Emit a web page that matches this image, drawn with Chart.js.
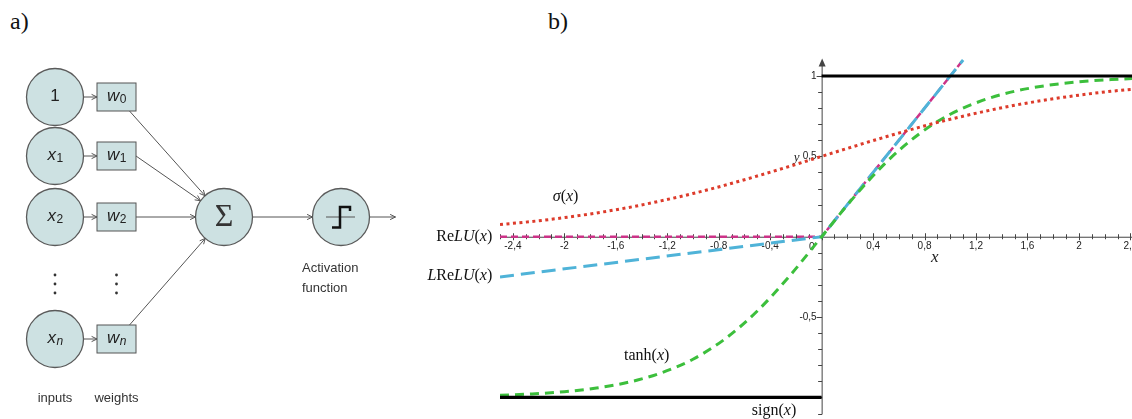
<!DOCTYPE html>
<html>
<head>
<meta charset="utf-8">
<script src="https://cdn.jsdelivr.net/npm/chart.js@4"></script>
<style>
  body { margin: 0; background: #fff; width: 1132px; height: 419px; overflow: hidden; position: relative; }
  canvas { position: absolute; top: 0; }
  #neuron { left: 0; }
  #acts { left: 400px; }
  .tag { position: absolute; top: 8px; font: 24px "Liberation Serif", serif; color: #111; }
</style>
</head>
<body>
<div class="tag" style="left:10px">a)</div>
<div class="tag" style="left:548px">b)</div>
<canvas id="neuron" width="460" height="419"></canvas>
<canvas id="acts" width="732" height="419"></canvas>
<script>
// ---- panel a: perceptron ----
const inputLabels = ['1', 'x1', 'x2', 'xn'];
const weightLabels = ['w0', 'w1', 'w2', 'wn'];

// ---- panel b: activation functions ----
const xs = [-2.5, -2.25, -2, -1.75, -1.5, -1.25, -1, -0.75, -0.5, -0.25, 0,
            0.25, 0.5, 0.75, 1, 1.25, 1.5, 1.75, 2, 2.25, 2.5];
const sigmoidVals = [0.076, 0.095, 0.119, 0.148, 0.182, 0.223, 0.269, 0.321, 0.378, 0.438, 0.5,
                     0.562, 0.622, 0.679, 0.731, 0.777, 0.818, 0.852, 0.881, 0.905, 0.924];
const tanhVals = [-0.987, -0.978, -0.964, -0.941, -0.905, -0.848, -0.762, -0.635, -0.462, -0.245, 0,
                  0.245, 0.462, 0.635, 0.762, 0.848, 0.905, 0.941, 0.964, 0.978, 0.987];
const reluX = [-2.5, 0, 1.1];
const reluVals = [0, 0, 1.1];
const lreluVals = [-0.25, 0, 1.1];
const signX = [-2.5, 0, 0, 0, 2.5];
const signVals = [-1, -1, null, 1, 1];
const xTickValues = [-2.4, -2, -1.6, -1.2, -0.8, -0.4, 0, 0.4, 0.8, 1.2, 1.6, 2, 2.4];
const xTickLabels = ['-2,4', '-2', '-1,6', '-1,2', '-0,8', '-0,4', '0', '0,4', '0,8', '1,2', '1,6', '2', '2,4'];
const yTickValues = [1, 0.5, -0.5];
const yTickLabels = ['1', '0,5', '-0,5'];

function pts(xv, yv) {
    return xv.map((x, i) => ({ x: x, y: yv[i] }));
}

function arrow(ctx, x1, y1, x2, y2) {
    const a = Math.atan2(y2 - y1, x2 - x1);
    ctx.beginPath();
    ctx.moveTo(x1, y1);
    ctx.lineTo(x2, y2);
    ctx.moveTo(x2 - 6 * Math.cos(a - 0.45), y2 - 6 * Math.sin(a - 0.45));
    ctx.lineTo(x2, y2);
    ctx.lineTo(x2 - 6 * Math.cos(a + 0.45), y2 - 6 * Math.sin(a + 0.45));
    ctx.stroke();
}

// letter + subscript, centred on (x, y)
function subText(ctx, label, x, y) {
    const main = label[0], sub = label.slice(1);
    const italic = main !== '1';
    const mainFont = (italic ? 'italic ' : '') + '17px "Liberation Sans", Arial';
    const subFont = (sub === 'n' ? 'italic ' : '') + '12px "Liberation Sans", Arial';
    ctx.font = mainFont;
    const w1 = ctx.measureText(main).width;
    ctx.font = subFont;
    const w2 = ctx.measureText(sub).width;
    let cx = x - (w1 + w2) / 2;
    ctx.textAlign = 'left';
    ctx.textBaseline = 'middle';
    ctx.font = mainFont;
    ctx.fillText(main, cx, y);
    ctx.font = subFont;
    ctx.fillText(sub, cx + w1 + 0.5, y + 4);
}

const rowY = [97, 156, 217, 339];
const inX = 55, wX = 116.5, sumX = 224, actX = 341, midY = 217, nodeR = 28.5;

const neuronPlugin = {
    id: 'neuron',
    afterDatasetsDraw(chart) {
        const ctx = chart.ctx;
        const px = v => chart.scales.x.getPixelForValue(v);
        const py = v => chart.scales.y.getPixelForValue(v);
        ctx.save();
        ctx.strokeStyle = '#555';
        ctx.fillStyle = '#222';
        ctx.lineWidth = 1;
        const sx = px(sumX), sy = py(midY);
        rowY.forEach((ry, i) => {
            const bx = px(wX), by = py(ry);
            // input -> weight
            arrow(ctx, px(inX) + nodeR, by, bx - 19.5, by);
            // weight box
            ctx.fillStyle = '#cde1e2';
            ctx.fillRect(bx - 19.5, by - 14, 39, 28);
            ctx.strokeRect(bx - 19.5, by - 14, 39, 28);
            ctx.fillStyle = '#222';
            subText(ctx, weightLabels[i], bx, by - 1);
            subText(ctx, inputLabels[i], px(inX), by - 1);
            // weight -> sum
            let ox = bx + 19.5, oy = by;
            if (i === 0) { ox = bx + 13; oy = by + 14; }
            if (i === rowY.length - 1) { ox = bx + 13; oy = by - 14; }
            const d = Math.hypot(sx - ox, sy - oy);
            arrow(ctx, ox, oy, sx - nodeR * (sx - ox) / d, sy - nodeR * (sy - oy) / d);
        });
        // sum -> activation -> output
        arrow(ctx, sx + nodeR, sy, px(actX) - nodeR, sy);
        arrow(ctx, px(actX) + nodeR, sy, px(actX) + nodeR + 26, sy);
        // sigma
        ctx.font = '32px "Liberation Serif", serif';
        ctx.textAlign = 'center';
        ctx.textBaseline = 'middle';
        ctx.fillStyle = '#333';
        ctx.fillText('\u03A3', sx, sy + 1);
        // step icon
        const ax = px(actX);
        ctx.beginPath();
        ctx.moveTo(ax - 15, sy);
        ctx.lineTo(ax + 14, sy);
        ctx.stroke();
        ctx.lineWidth = 2.5;
        ctx.strokeStyle = '#111';
        ctx.beginPath();
        ctx.moveTo(ax - 9, sy + 10.5);
        ctx.lineTo(ax - 1, sy + 10.5);
        ctx.lineTo(ax - 1, sy - 10);
        ctx.lineTo(ax + 9, sy - 10);
        ctx.lineTo(ax + 9, sy - 6);
        ctx.stroke();
        // vertical ellipses
        ctx.fillStyle = '#333';
        [275, 284, 293].forEach(dy => {
            [inX, wX].forEach(dx => {
                ctx.beginPath();
                ctx.arc(px(dx), py(dy), 1.4, 0, Math.PI * 2);
                ctx.fill();
            });
        });
        // captions
        ctx.font = '13px "Liberation Sans", Arial';
        ctx.fillStyle = '#333';
        ctx.textAlign = 'center';
        ctx.fillText('inputs', px(inX), py(398));
        ctx.fillText('weights', px(wX), py(398));
        ctx.textAlign = 'left';
        ctx.fillText('Activation', px(302), py(268));
        ctx.fillText('function', px(302), py(288));
        ctx.restore();
    }
};

new Chart(document.getElementById('neuron'), {
    type: 'scatter',
    data: {
        datasets: [{
            data: rowY.map(y => ({ x: inX, y: y })).concat([{ x: sumX, y: midY }, { x: actX, y: midY }]),
            pointRadius: nodeR,
            pointHoverRadius: nodeR,
            pointBackgroundColor: '#cde1e2',
            pointBorderColor: '#5a5a5a',
            pointBorderWidth: 1.3
        }]
    },
    options: {
        responsive: false,
        animation: false,
        events: [],
        layout: { padding: 0, autoPadding: false },
        plugins: { legend: { display: false }, tooltip: { enabled: false } },
        scales: {
            x: { type: 'linear', display: false, min: 0, max: 460 },
            y: { type: 'linear', display: false, min: 0, max: 419, reverse: true }
        }
    },
    plugins: [neuronPlugin]
});

// ---- panel b ----
function runs(ctx, parts, x, y, align) {
    const w = parts.map(([t, it]) => {
        ctx.font = (it ? 'italic ' : '') + '16px "Liberation Serif", serif';
        return ctx.measureText(t).width;
    });
    const total = w.reduce((a, b) => a + b, 0);
    let cx = align === 'right' ? x - total : x - total / 2;
    ctx.textAlign = 'left';
    parts.forEach(([t, it], i) => {
        ctx.font = (it ? 'italic ' : '') + '16px "Liberation Serif", serif';
        ctx.fillText(t, cx, y);
        cx += w[i];
    });
}

const axesPlugin = {
    id: 'axes',
    beforeDatasetsDraw(chart) {
        const ctx = chart.ctx, sx = chart.scales.x, sy = chart.scales.y;
        const x0 = sx.getPixelForValue(0), y0 = sy.getPixelForValue(0);
        const area = chart.chartArea;
        ctx.save();
        ctx.strokeStyle = '#444';
        ctx.fillStyle = '#444';
        ctx.lineWidth = 1;
        ctx.beginPath();
        ctx.moveTo(area.left, y0 + 0.5);
        ctx.lineTo(area.right, y0 + 0.5);
        ctx.moveTo(x0 + 0.5, sy.getPixelForValue(-1.105));
        ctx.lineTo(x0 + 0.5, sy.getPixelForValue(1.09));
        for (let i = -25; i <= 24; i++) {
            const p = Math.round(sx.getPixelForValue(i / 10)) + 0.5;
            const h = i % 4 === 0 ? 3.5 : 2.5;
            ctx.moveTo(p, y0 - h);
            ctx.lineTo(p, y0 + h);
        }
        for (let i = -11; i <= 10; i++) {
            const p = Math.round(sy.getPixelForValue(i / 10)) + 0.5;
            const h = i % 5 === 0 ? 5 : 3.5;
            ctx.moveTo(x0 - h, p);
            ctx.lineTo(x0 + 0.5, p);
        }
        ctx.stroke();
        // arrow head on y axis
        const top = sy.getPixelForValue(1.09);
        ctx.beginPath();
        ctx.moveTo(x0 + 0.5, top - 3);
        ctx.lineTo(x0 - 3, top + 5);
        ctx.lineTo(x0 + 4, top + 5);
        ctx.closePath();
        ctx.fill();
        // tick labels
        ctx.fillStyle = '#222';
        ctx.font = '10px "Liberation Sans Narrow", "Liberation Sans", Arial';
        ctx.textBaseline = 'middle';
        xTickValues.forEach((v, i) => {
            if (v === 0) {
                ctx.textAlign = 'right';
                ctx.fillText(xTickLabels[i], x0 - 7, y0 + 11);
            } else {
                ctx.textAlign = 'center';
                ctx.fillText(xTickLabels[i], sx.getPixelForValue(v), y0 + 10);
            }
        });
        ctx.textAlign = 'right';
        yTickValues.forEach((v, i) => {
            ctx.fillText(yTickLabels[i], x0 - 5, sy.getPixelForValue(v));
        });
        // axis names
        ctx.font = 'italic 13px "Liberation Serif", serif';
        ctx.fillText('y', x0 - 22, sy.getPixelForValue(0.5) + 1);
        ctx.font = 'italic 17px "Liberation Serif", serif';
        ctx.textAlign = 'center';
        ctx.fillText('x', sx.getPixelForValue(0.88), y0 + 21);
        ctx.restore();
    },
    afterDatasetsDraw(chart) {
        const ctx = chart.ctx, sx = chart.scales.x, sy = chart.scales.y;
        ctx.save();
        ctx.fillStyle = '#111';
        ctx.textBaseline = 'middle';
        runs(ctx, [['\u03C3', true], ['(', false], ['x', true], [')', false]], sx.getPixelForValue(-1.99), sy.getPixelForValue(0.25), 'center');
        runs(ctx, [['Re', false], ['LU', true], ['(', false], ['x', true], [')', false]], sx.getPixelForValue(-2.56), sy.getPixelForValue(0), 'right');
        runs(ctx, [['L', true], ['Re', false], ['LU', true], ['(', false], ['x', true], [')', false]], sx.getPixelForValue(-2.56), sy.getPixelForValue(-0.245), 'right');
        runs(ctx, [['tanh(', false], ['x', true], [')', false]], sx.getPixelForValue(-1.36), sy.getPixelForValue(-0.74), 'center');
        runs(ctx, [['sign(', false], ['x', true], [')', false]], sx.getPixelForValue(-0.37), sy.getPixelForValue(-1.086), 'center');
        ctx.restore();
    }
};

new Chart(document.getElementById('acts'), {
    type: 'scatter',
    data: {
        datasets: [
            { label: 'sign', data: pts(signX, signVals), borderColor: '#000', borderWidth: 3.2, spanGaps: false },
            { label: 'sigmoid', data: pts(xs, sigmoidVals), borderColor: '#dd3b2b', borderWidth: 3, borderDash: [3, 3.5], cubicInterpolationMode: 'monotone' },
            { label: 'tanh', data: pts(xs, tanhVals), borderColor: '#3cbf3c', borderWidth: 3, borderDash: [9, 6], cubicInterpolationMode: 'monotone' },
            { label: 'LReLU', data: pts(reluX, lreluVals), borderColor: '#4fb3d8', borderWidth: 3, borderDash: [14, 7] },
            { label: 'ReLU', data: pts(reluX, reluVals), borderColor: '#cc3388', borderWidth: 2.5, borderDash: [7, 4] }
        ]
    },
    options: {
        responsive: false,
        animation: false,
        events: [],
        showLine: true,
        elements: { point: { radius: 0, hoverRadius: 0 } },
        layout: { padding: { left: 100, right: 0, top: 0, bottom: 0 }, autoPadding: false },
        plugins: { legend: { display: false }, tooltip: { enabled: false } },
        scales: {
            x: { type: 'linear', display: false, min: -2.5, max: 2.4125 },
            y: { type: 'linear', display: false, min: -1.134, max: 1.473 }
        }
    },
    plugins: [axesPlugin]
});
</script>
</body>
</html>
